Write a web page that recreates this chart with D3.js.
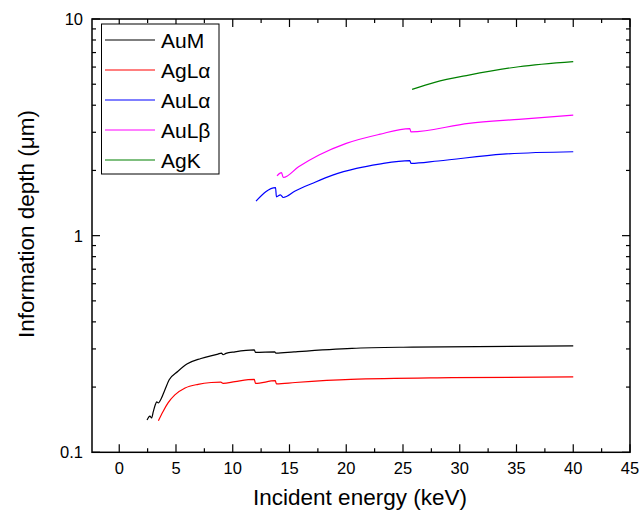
<!DOCTYPE html>
<html><head><meta charset="utf-8">
<script src="https://cdn.jsdelivr.net/npm/d3@7"></script>
<style>body{margin:0;background:#fff}svg{font-family:Arial,"Liberation Sans",sans-serif}</style>
</head><body><svg id="c" width="639" height="517"></svg>
<script>
const seriesNames = ["AuM", "AgLα", "AuLα", "AuLβ", "AgK"];
const seriesColors = ["#000000", "#ff0000", "#0000ff", "#ff00ff", "#008000"];
const auM = [[2.45,0.141],[2.7,0.147],[2.85,0.144],[3.0,0.154],[3.2,0.167],[3.3,0.171],[3.45,0.169],[3.6,0.173],[4.0,0.193],[4.4,0.216],[5.15,0.236],[6.0,0.256],[7.2,0.271],[8.7,0.284],[9.0,0.287],[9.15,0.282],[9.4,0.286],[10.2,0.291],[11.9,0.297],[12.0,0.289],[13.7,0.291],[13.8,0.287],[15.4,0.291],[20.5,0.302],[25.8,0.306],[40,0.310]];
const agLa = [[3.45,0.140],[3.85,0.154],[4.3,0.169],[4.9,0.184],[5.8,0.198],[6.95,0.206],[8.1,0.210],[8.95,0.211],[9.15,0.208],[10.2,0.212],[11.9,0.217],[12.0,0.208],[13.75,0.214],[13.85,0.207],[15.5,0.210],[20.4,0.217],[29.3,0.221],[40,0.223]];
const auLa = [[12.05,1.444],[13.77,1.667],[13.85,1.511],[14.2,1.544],[14.45,1.500],[15.5,1.607],[17.0,1.742],[18.8,1.903],[20.9,2.044],[22.9,2.140],[25.6,2.222],[25.7,2.155],[28.1,2.211],[33.8,2.378],[40,2.439]];
const auLb = [[13.9,1.889],[14.3,1.952],[14.45,1.855],[15.8,2.078],[17.6,2.355],[20.0,2.666],[22.9,2.933],[25.6,3.122],[25.7,3.011],[30.8,3.300],[35.2,3.444],[40,3.600]];
const agK = [[25.8,4.733],[27.8,5.10],[30.8,5.51],[35.2,6.02],[40,6.355]];
const xTicks = [0,5,10,15,20,25,30,35,40,45];
const yTickLabels = ["0.1","1","10"];

const allSeries = [auM, agLa, auLa, auLb, agK];
const svg = d3.select("#c");
const L = 92, R = 630, T = 19, B = 452.3;
const x = d3.scaleLinear().domain([-2.4, 45]).range([L, R]);
const y = d3.scaleLog().domain([0.1, 10]).range([B, T]);

const xMinor = d3.range(2.5, 45, 5);
const yMinor = [];
[0.1, 1].forEach(d => { for (let k = 2; k <= 9; k++) yMinor.push(d * k); });
const g = svg.append("g").attr("stroke", "#000").attr("stroke-width", 1.2);
xTicks.forEach(v => {
  g.append("line").attr("x1", x(v)).attr("x2", x(v)).attr("y1", B).attr("y2", B - 8);
  g.append("line").attr("x1", x(v)).attr("x2", x(v)).attr("y1", T).attr("y2", T + 8);
});
xMinor.forEach(v => {
  g.append("line").attr("x1", x(v)).attr("x2", x(v)).attr("y1", B).attr("y2", B - 4);
  g.append("line").attr("x1", x(v)).attr("x2", x(v)).attr("y1", T).attr("y2", T + 4);
});
yTickLabels.map(Number).forEach(v => {
  g.append("line").attr("x1", L).attr("x2", L + 8).attr("y1", y(v)).attr("y2", y(v));
  g.append("line").attr("x1", R).attr("x2", R - 8).attr("y1", y(v)).attr("y2", y(v));
});
yMinor.forEach(v => {
  g.append("line").attr("x1", L).attr("x2", L + 4).attr("y1", y(v)).attr("y2", y(v));
  g.append("line").attr("x1", R).attr("x2", R - 4).attr("y1", y(v)).attr("y2", y(v));
});

const line = d3.line().x(d => x(d[0])).y(d => y(d[1])).curve(d3.curveMonotoneX);
allSeries.forEach((s, i) => {
  svg.append("path").attr("d", line(s)).attr("fill", "none")
    .attr("stroke", seriesColors[i]).attr("stroke-width", 1.2);
});

svg.append("rect").attr("x", L).attr("y", T).attr("width", R - L).attr("height", B - T)
  .attr("fill", "none").attr("stroke", "#000").attr("stroke-width", 1.5);

xTicks.forEach(v => {
  svg.append("text").attr("x", x(v)).attr("y", 474).attr("text-anchor", "middle")
    .attr("font-size", 16.5).text(v);
});
yTickLabels.forEach(t => {
  svg.append("text").attr("x", 83).attr("y", y(+t) + 6).attr("text-anchor", "end")
    .attr("font-size", 16.5).text(t);
});

svg.append("text").attr("x", 360).attr("y", 505).attr("text-anchor", "middle")
  .attr("font-size", 22.5).text("Incident energy (keV)");
svg.append("text").attr("transform", "translate(34,224) rotate(-90)").attr("text-anchor", "middle")
  .attr("font-size", 22.5).text("Information depth (μm)");

const lg = svg.append("g");
lg.append("rect").attr("x", 101.5).attr("y", 24).attr("width", 117.5).attr("height", 150)
  .attr("fill", "#fff").attr("stroke", "#000").attr("stroke-width", 1);
seriesNames.forEach((n, i) => {
  const yy = 40 + i * 30;
  lg.append("line").attr("x1", 105).attr("x2", 155).attr("y1", yy).attr("y2", yy)
    .attr("stroke", seriesColors[i]).attr("stroke-width", 1.2);
  lg.append("text").attr("x", 161).attr("y", yy + 7.5).attr("font-size", 21).text(n);
});
</script></body></html>
